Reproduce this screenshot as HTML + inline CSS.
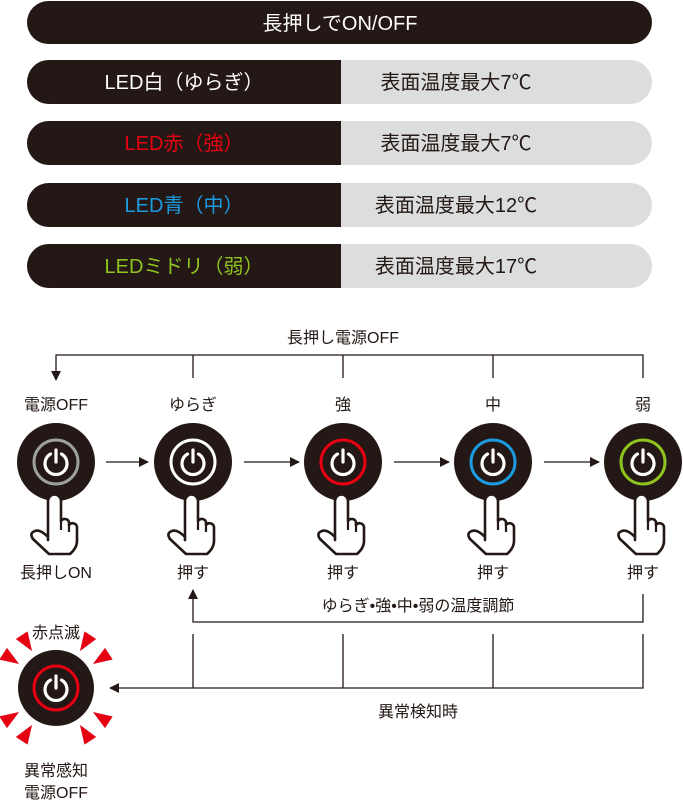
<!DOCTYPE html>
<html><head><meta charset="utf-8"><style>
html,body{margin:0;padding:0;background:#fff;}
svg{display:block;}
text{font-family:"Liberation Sans","Noto Sans CJK JP",sans-serif;}
</style></head><body>
<svg width="683" height="804" viewBox="0 0 683 804" xmlns="http://www.w3.org/2000/svg">
<defs>
<g id="hand">
<path d="M -7,44 L -7,5 A 6.5 6.5 0 0 1 6,5 L 6,25 A 4.5 4.5 0 0 1 14,26 L 14,29 A 4.5 4.5 0 0 1 22,31 L 22,45 Q 22,52 15,58 L -6,58 L -22,43 Q -26,37 -20,35 Q -15,33 -7,41 Z" fill="#fff" stroke="#231815" stroke-width="2.6" stroke-linejoin="round"/>
<path d="M 6,25 L 6,34 M 14,28 L 14,36" stroke="#231815" stroke-width="2.2" fill="none"/>
</g>
<g id="pw">
<path d="M -5.5,-8 A 11 11 0 1 0 5.5,-8" fill="none" stroke="#fff" stroke-width="3.2" stroke-linecap="round"/>
<line x1="0" y1="-12" x2="0" y2="0" stroke="#fff" stroke-width="3.2" stroke-linecap="round"/>
</g>
<path id="ray" d="M0,-44 L-7,-63 L7,-63 Z" fill="#e60012"/>
<marker id="ar" markerWidth="10" markerHeight="10" refX="9" refY="5" orient="auto" markerUnits="userSpaceOnUse">
<path d="M0,0 L10,5 L0,10 Z" fill="#231815"/>
</marker>
</defs>

<rect x="27" y="1" width="625" height="43" rx="21.5" fill="#231815"/>
<text x="340" y="30" fill="#fff" font-size="20" text-anchor="middle">長押しでON/OFF</text>

<g font-size="20">
<rect x="27" y="60" width="625" height="44" rx="22" fill="#dcdddd"/>
<path d="M49,60 H341 V104 H49 A22 22 0 0 1 49,60 Z" fill="#231815"/>
<text x="184" y="89" fill="#fff" text-anchor="middle">LED白（ゆらぎ）</text>
<text x="456" y="89" fill="#231815" text-anchor="middle">表面温度最大7℃</text>

<rect x="27" y="121" width="625" height="44" rx="22" fill="#dcdddd"/>
<path d="M49,121 H341 V165 H49 A22 22 0 0 1 49,121 Z" fill="#231815"/>
<text x="184" y="150" fill="#e60012" text-anchor="middle">LED赤（強）</text>
<text x="456" y="150" fill="#231815" text-anchor="middle">表面温度最大7℃</text>

<rect x="27" y="183" width="625" height="44" rx="22" fill="#dcdddd"/>
<path d="M49,183 H341 V227 H49 A22 22 0 0 1 49,183 Z" fill="#231815"/>
<text x="184" y="212" fill="#1d9be0" text-anchor="middle">LED青（中）</text>
<text x="456" y="212" fill="#231815" text-anchor="middle">表面温度最大12℃</text>

<rect x="27" y="244" width="625" height="44" rx="22" fill="#dcdddd"/>
<path d="M49,244 H341 V288 H49 A22 22 0 0 1 49,244 Z" fill="#231815"/>
<text x="184" y="273" fill="#8fc31f" text-anchor="middle">LEDミドリ（弱）</text>
<text x="456" y="273" fill="#231815" text-anchor="middle">表面温度最大17℃</text>
</g>

<g stroke="#231815" stroke-width="1.3" fill="none">
<path d="M643,378 V355 H56 V380" marker-end="url(#ar)"/>
<path d="M193,355 V378 M343,355 V378 M493,355 V378"/>
<line x1="106" y1="462" x2="148" y2="462" marker-end="url(#ar)"/>
<line x1="244" y1="462" x2="299" y2="462" marker-end="url(#ar)"/>
<line x1="394" y1="462" x2="449" y2="462" marker-end="url(#ar)"/>
<line x1="544" y1="462" x2="599" y2="462" marker-end="url(#ar)"/>
<path d="M643,594 V622 H193 V590" marker-end="url(#ar)"/>
<path d="M193,634 V688 M343,634 V688 M493,634 V688"/>
<path d="M643,634 V688 H110" marker-end="url(#ar)"/>
</g>

<g font-size="16" fill="#231815" text-anchor="middle">
<text x="343" y="343">長押し電源OFF</text>
<text x="56" y="410">電源OFF</text>
<text x="193" y="410">ゆらぎ</text>
<text x="343" y="410">強</text>
<text x="493" y="410">中</text>
<text x="643" y="410">弱</text>
<text x="56" y="578">長押しON</text>
<text x="193" y="578">押す</text>
<text x="343" y="578">押す</text>
<text x="493" y="578">押す</text>
<text x="643" y="578">押す</text>
<text x="418" y="611">ゆらぎ•強•中•弱の温度調節</text>
<text x="418" y="717">異常検知時</text>
<text x="56" y="638">赤点滅</text>
<text x="56" y="776">異常感知</text>
<text x="56" y="798">電源OFF</text>
</g>

<g transform="translate(56,462)"><circle r="39" fill="#231815"/><circle r="22" fill="none" stroke="#9fa0a0" stroke-width="3"/><use href="#pw"/></g>
<g transform="translate(193,462)"><circle r="39" fill="#231815"/><circle r="22" fill="none" stroke="#fff" stroke-width="3"/><use href="#pw"/></g>
<g transform="translate(343,462)"><circle r="39" fill="#231815"/><circle r="22" fill="none" stroke="#e60012" stroke-width="3"/><use href="#pw"/></g>
<g transform="translate(493,462)"><circle r="39" fill="#231815"/><circle r="22" fill="none" stroke="#1d9be0" stroke-width="3"/><use href="#pw"/></g>
<g transform="translate(643,462)"><circle r="39" fill="#231815"/><circle r="22" fill="none" stroke="#8fc31f" stroke-width="3"/><use href="#pw"/></g>

<use href="#hand" transform="translate(55,496)"/>
<use href="#hand" transform="translate(192,496)"/>
<use href="#hand" transform="translate(342,496)"/>
<use href="#hand" transform="translate(492,496)"/>
<use href="#hand" transform="translate(642,496)"/>

<g transform="translate(56,688)">
<circle r="38" fill="#231815"/><circle r="22" fill="none" stroke="#e60012" stroke-width="3"/><use href="#pw"/>
<use href="#ray" transform="rotate(-33)"/><use href="#ray" transform="rotate(-57)"/>
<use href="#ray" transform="rotate(33)"/><use href="#ray" transform="rotate(57)"/>
<use href="#ray" transform="rotate(123)"/><use href="#ray" transform="rotate(147)"/>
<use href="#ray" transform="rotate(-123)"/><use href="#ray" transform="rotate(-147)"/>
</g>
</svg>
</body></html>
